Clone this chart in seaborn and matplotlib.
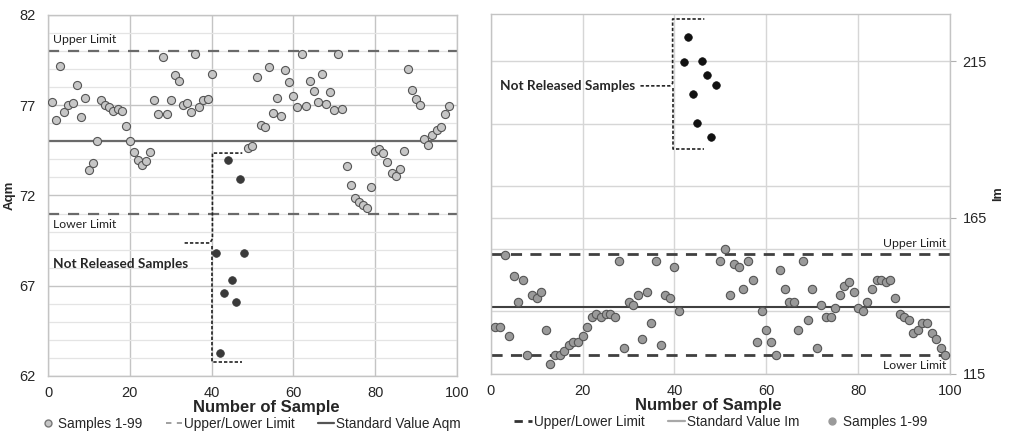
import numpy as np
import pandas as pd
import matplotlib
matplotlib.use("Agg")
import matplotlib.pyplot as plt
from matplotlib.lines import Line2D
import seaborn as sns

# Aqm chart (left)
aqm_idx = list(range(1, 41)) + list(range(49, 99))
aqm_vals = [77.2, 76.2, 79.2, 76.6, 77.0, 77.1, 78.1, 76.35, 77.4, 73.4,
            73.8, 75.0, 77.3, 77.0, 76.9, 76.7, 76.8, 76.7, 75.85, 75.0,
            74.4, 73.95, 73.7, 73.9, 74.4, 77.3, 76.5, 79.7, 76.5, 77.3,
            78.7, 78.35, 77.0, 77.15, 76.65, 79.85, 76.9, 77.3, 77.35, 78.75,
            74.63, 74.76, 78.57, 75.89, 75.81, 79.12, 76.57, 77.38, 76.39, 78.97,
            78.3, 77.5, 76.92, 79.82, 76.96, 78.32, 77.8, 77.2, 78.75, 77.07,
            77.73, 76.75, 79.84, 76.81, 73.62, 72.58, 71.86, 71.66, 71.49, 71.31,
            72.47, 74.48, 74.6, 74.34, 73.84, 73.25, 73.06, 73.47, 74.48, 78.99,
            77.83, 77.33, 77.0, 75.15, 74.82, 75.33, 75.63, 75.81, 76.53, 76.96]
aqm_nr_idx = list(range(41, 49))
aqm_nr_vals = [68.8, 63.3, 66.6, 73.95, 67.3, 66.1, 72.9, 68.8]
aqm_upper, aqm_std, aqm_lower = 80, 75, 71

# Im chart (right)
im_idx = list(range(1, 42)) + list(range(50, 100))
im_vals = [130.1, 130.1, 153.2, 127.2, 146.3, 138.1, 145.2, 121.2, 140.3, 139.3,
           141.2, 129.2, 118.3, 121.2, 121.2, 122.3, 124.2, 125.2, 125.2, 127.2,
           130.1, 133.1, 134.1, 133.1, 134.1, 134.1, 133.1, 151.2, 123.2, 138.1,
           137.2, 140.3, 126.2, 141.2, 131.2, 151.2, 124.2, 140.3, 139.3, 149.2, 135.2,
           151.2, 155.1, 140.3, 150.1, 149.2, 142.3, 151.2, 145.2, 125.2, 135.2,
           129.2, 125.2, 121.2, 148.3, 142.3, 138.1, 138.1, 129.2, 151.2, 132.2,
           142.3, 123.2, 137.2, 133.1, 133.1, 136.1, 140.3, 143.3, 144.3, 141.2,
           136.1, 135.2, 138.1, 142.3, 145.2, 145.2, 144.3, 145.2, 139.3, 134.1,
           133.1, 132.2, 128.1, 129.2, 131.2, 131.2, 128.1, 126.2, 123.2, 121.2]
im_nr_idx = list(range(42, 50))
im_nr_vals = [214.7, 222.7, 204.7, 195.3, 215.2, 210.8, 190.8, 207.4]
im_upper, im_std, im_lower = 153.3, 136.3, 121.1

# bracket shapes around the not released samples (data coords)
aqm_brk_x = [33.4, 39.6, 40.2, 40.2, 47.5]
aqm_brk_y = [69.37, 69.37, 69.6, 74.35, 74.35]
aqm_brk2_x = [40.2, 40.2, 47.5]
aqm_brk2_y = [69.2, 62.78, 62.78]
im_brk_x = [32.6, 39.0, 39.6, 39.6, 46.5]
im_brk_y = [207.2, 207.2, 208.0, 228.6, 228.6]
im_brk2_x = [39.6, 39.6, 46.5]
im_brk2_y = [206.5, 187.0, 187.0]

sns.set_style("white")
plt.rcParams['font.family'] = ['Liberation Sans', 'DejaVu Sans']

fig = plt.figure(figsize=(10.11, 4.37), dpi=100)
ax1 = fig.add_axes([0.0475, 0.1396, 0.4045, 0.8261])
ax2 = fig.add_axes([0.4854, 0.1442, 0.4543, 0.8238])

df1 = pd.DataFrame({'n': aqm_idx, 'v': aqm_vals})
df1nr = pd.DataFrame({'n': aqm_nr_idx, 'v': aqm_nr_vals})
df2 = pd.DataFrame({'n': im_idx, 'v': im_vals})
df2nr = pd.DataFrame({'n': im_nr_idx, 'v': im_nr_vals})

note_font = ['Lato', 'DejaVu Sans']

# ---- left: Aqm
ax = ax1
ax.set_xlim(0, 100)
ax.set_ylim(62, 82)
ax.set_yticks(np.arange(62, 83, 5))
ax.set_yticks(np.arange(62, 83, 1), minor=True)
ax.set_xticks(np.arange(0, 101, 20))
ax.grid(which='minor', axis='y', color='#e4e4e4', lw=0.9)
ax.grid(which='major', axis='y', color='#c4c4c4', lw=1.0)
ax.grid(which='major', axis='x', color='#c4c4c4', lw=1.0)
ax.set_axisbelow(True)
ax.axhline(aqm_upper, color='#6a6a6a', lw=1.6, ls=(0, (5, 4)))
ax.axhline(aqm_lower, color='#6a6a6a', lw=1.6, ls=(0, (5, 4)))
ax.axhline(aqm_std, color='#6a6a6a', lw=1.6)
sns.scatterplot(data=df1, x='n', y='v', ax=ax, color='#c6c6c6', edgecolor='#555555',
                s=34, linewidth=0.8, zorder=3)
sns.scatterplot(data=df1nr, x='n', y='v', ax=ax, color='#3a3a3a', edgecolor='#3a3a3a',
                s=30, linewidth=0.6, zorder=3)
ax.plot(aqm_brk_x, aqm_brk_y, color='#222222', lw=1.2, ls=(0, (2, 1.2)))
ax.plot(aqm_brk2_x, aqm_brk2_y, color='#222222', lw=1.2, ls=(0, (2, 1.2)))
ax.text(1.2, aqm_upper + 0.35, 'Upper Limit', fontsize=8.8, family=note_font, color='#222222', va='bottom')
ax.text(1.2, aqm_lower - 0.3, 'Lower Limit', fontsize=8.8, family=note_font, color='#222222', va='top')
ax.text(1.2, 68.2, 'Not Released Samples', fontsize=9.8, family=note_font, weight='bold', va='center')
ax.set_ylabel('Aqm', fontsize=9.5, weight='bold')
ax.yaxis.set_label_coords(-0.078, 0.5)
ax.set_xlabel('Number of Sample', fontsize=12, weight='bold')
ax.xaxis.set_label_coords(0.535, -0.066)

# ---- right: Im
ax = ax2
ax.set_xlim(0, 100)
ax.set_ylim(115, 230.2)
ax.set_yticks([115, 165, 215])
ax.set_yticks([135, 155, 175, 195], minor=True)
ax.set_xticks(np.arange(0, 101, 20))
ax.grid(which='both', axis='y', color='#d6d6d6', lw=1.0)
ax.grid(which='major', axis='x', color='#d6d6d6', lw=1.0)
ax.set_axisbelow(True)
ax.yaxis.tick_right()
ax.yaxis.set_label_position('right')
ax.axhline(im_upper, color='#404040', lw=2.0, ls=(0, (4, 3)))
ax.axhline(im_lower, color='#404040', lw=2.0, ls=(0, (4, 3)))
ax.axhline(im_std, color='#404040', lw=1.5)
sns.scatterplot(data=df2, x='n', y='v', ax=ax, color='#9a9a9a', edgecolor='#555555',
                s=36, linewidth=0.8, zorder=3)
sns.scatterplot(data=df2nr, x='n', y='v', ax=ax, color='#111111', edgecolor='#111111',
                s=30, linewidth=0.5, zorder=3)
ax.plot(im_brk_x, im_brk_y, color='#222222', lw=1.2, ls=(0, (2, 1.2)))
ax.plot(im_brk2_x, im_brk2_y, color='#222222', lw=1.2, ls=(0, (2, 1.2)))
ax.text(99.2, im_upper + 1.8, 'Upper Limit', fontsize=8.8, family=note_font, color='#222222',
        ha='right', va='bottom')
ax.text(99.2, im_lower - 1.6, 'Lower Limit', fontsize=8.8, family=note_font, color='#222222',
        ha='right', va='top')
ax.text(31.5, 207.2, 'Not Released Samples', fontsize=9.8, family=note_font, weight='bold',
        ha='right', va='center')
ax.set_ylabel('Im', fontsize=9, weight='bold', labelpad=4, rotation=90)
ax.set_xlabel('Number of Sample', fontsize=12, weight='bold')
ax.xaxis.set_label_coords(0.4746, -0.066)

for a in (ax1, ax2):
    for sp in a.spines.values():
        sp.set_color('#c4c4c4')
        sp.set_linewidth(1.0)
    a.tick_params(axis='both', which='major', labelsize=10.5, length=4, color='#b0b0b0', pad=3)
    a.tick_params(axis='both', which='minor', length=0)
    a.tick_params(axis='y', which='major', pad=5)

h1 = [Line2D([], [], ls='', marker='o', ms=5, mfc='#c6c6c6', mec='#777777', label='Samples 1-99'),
      Line2D([], [], color='#999999', lw=1.3, ls=(0, (3, 3)), label='Upper/Lower Limit'),
      Line2D([], [], color='#555555', lw=1.6, label='Standard Value Aqm')]
ax1.legend(handles=h1, loc='center', bbox_to_anchor=(0.495, -0.133), ncol=3, frameon=False,
           fontsize=9.8, handlelength=1.2, handletextpad=0.15, columnspacing=1.7,
           borderpad=0, borderaxespad=0)

h2 = [Line2D([], [], color='#333333', lw=2.0, ls=(0, (3, 2)), label='Upper/Lower Limit'),
      Line2D([], [], color='#a8a8a8', lw=1.6, label='Standard Value Im'),
      Line2D([], [], ls='', marker='o', ms=5, mfc='#9a9a9a', mec='#9a9a9a', label='Samples 1-99')]
ax2.legend(handles=h2, loc='center', bbox_to_anchor=(0.5, -0.133), ncol=3, frameon=False,
           fontsize=9.8, handlelength=1.3, handletextpad=0.15, columnspacing=1.7,
           borderpad=0, borderaxespad=0)

fig.savefig('out.png', dpi=100)
